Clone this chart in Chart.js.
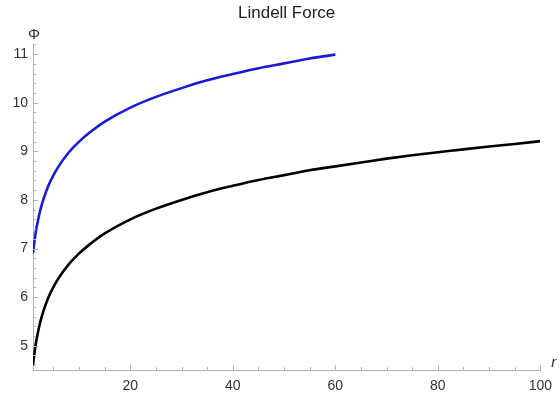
<!DOCTYPE html>
<html>
<head>
<meta charset="utf-8">
<script src="https://cdn.jsdelivr.net/npm/chart.js@4"></script>
<style>
  body { margin: 0; background: #fff; }
  #wrap { width: 560px; height: 397px; }
</style>
</head>
<body>
<div id="wrap"><canvas id="lindellChart"></canvas></div>
<script>
// values
const rValues = [1, 1.25, 1.5, 2, 2.5, 3, 4, 5, 6, 8, 10, 12, 15, 20, 25, 30, 35, 40, 45, 50, 55, 60, 65, 70, 75, 80, 85, 90, 95, 100];
const phiBlack = [4.60, 4.82, 5.01, 5.29, 5.52, 5.70, 5.99, 6.21, 6.39, 6.68, 6.90, 7.08, 7.31, 7.60, 7.82, 8.00, 8.16, 8.29, 8.41, 8.51, 8.61, 8.69, 8.77, 8.85, 8.92, 8.98, 9.04, 9.10, 9.15, 9.21];
const phiBlue = [6.90, 7.12, 7.31, 7.59, 7.82, 8.00, 8.29, 8.51, 8.69, 8.98, 9.20, 9.38, 9.61, 9.90, 10.12, 10.30, 10.46, 10.59, 10.71, 10.81, 10.91, 10.99];
const xTicks = [20, 40, 60, 80, 100];
const yTicks = [5, 6, 7, 8, 9, 10, 11];

const toPoints = (ys) => ys.map((y, i) => ({ x: rValues[i], y: y }));

// Mathematica style: ticks pointing into the plot, minor ticks, axis labels
const frameTicks = {
    id: 'frameTicks',
    afterDraw(chart) {
        const { ctx, chartArea, scales } = chart;
        const xs = scales.x, ys = scales.y;
        ctx.save();
        ctx.strokeStyle = '#b0b0b0';
        ctx.lineWidth = 1;
        ctx.beginPath();
        for (let v = 5; v <= 100; v += 5) {
            const px = Math.round(xs.getPixelForValue(v)) + 0.5;
            const len = v % 20 === 0 ? 5 : 3;
            ctx.moveTo(px, chartArea.bottom);
            ctx.lineTo(px, chartArea.bottom - len);
        }
        for (let k = 23; k <= 56; k++) {
            const v = k / 5;
            const py = Math.round(ys.getPixelForValue(v)) + 0.5;
            const len = k % 5 === 0 ? 5 : 3;
            ctx.moveTo(chartArea.left, py);
            ctx.lineTo(chartArea.left + len, py);
        }
        ctx.stroke();

        ctx.fillStyle = '#333';
        ctx.font = '15px "Liberation Sans", Arial, sans-serif';
        ctx.textAlign = 'center';
        ctx.textBaseline = 'middle';
        ctx.fillText('\u03A6', chartArea.left + 1, 35);
        ctx.font = 'italic 15px "Liberation Sans", Arial, sans-serif';
        ctx.textAlign = 'left';
        ctx.fillText('r', chartArea.right + 11, chartArea.bottom - 7);
        ctx.restore();
    }
};

new Chart(document.getElementById('lindellChart').getContext('2d'), {
    type: 'line',
    data: {
        datasets: [
            {
                label: 'blue',
                data: toPoints(phiBlue),
                borderColor: '#1a1ad6',
                borderWidth: 2.6,
                pointRadius: 0,
                fill: false,
                cubicInterpolationMode: 'monotone'
            },
            {
                label: 'black',
                data: toPoints(phiBlack),
                borderColor: '#000000',
                borderWidth: 2.6,
                pointRadius: 0,
                fill: false,
                cubicInterpolationMode: 'monotone'
            }
        ]
    },
    plugins: [frameTicks],
    options: {
        responsive: true,
        maintainAspectRatio: false,
        animation: false,
        layout: { padding: { top: 0, right: 18, bottom: 0, left: 0 } },
        plugins: {
            legend: { display: false },
            tooltip: { enabled: false },
            title: {
                display: true,
                text: 'Lindell Force',
                fullSize: false,
                color: '#222',
                font: { family: '"Liberation Sans", Arial, sans-serif', size: 17, weight: 'normal' },
                padding: { top: 3, bottom: 21 }
            }
        },
        scales: {
            x: {
                type: 'linear',
                min: 1,
                max: 100,
                afterBuildTicks: (scale) => { scale.ticks = xTicks.map(v => ({ value: v })); },
                afterFit: (scale) => { scale.height = 27; },
                grid: { display: false, drawTicks: false },
                border: { display: true, color: '#b0b0b0', width: 1 },
                ticks: {
                    padding: 8,
                    color: '#333',
                    font: { family: '"Liberation Sans", Arial, sans-serif', size: 14 }
                }
            },
            y: {
                type: 'linear',
                min: 4.5,
                max: 11.2,
                afterBuildTicks: (scale) => { scale.ticks = yTicks.map(v => ({ value: v })); },
                afterFit: (scale) => { scale.width = 33; },
                grid: { display: false, drawTicks: false },
                border: { display: true, color: '#b0b0b0', width: 1 },
                ticks: {
                    padding: 5,
                    color: '#333',
                    font: { family: '"Liberation Sans", Arial, sans-serif', size: 14 }
                }
            }
        }
    }
});
</script>
</body>
</html>
